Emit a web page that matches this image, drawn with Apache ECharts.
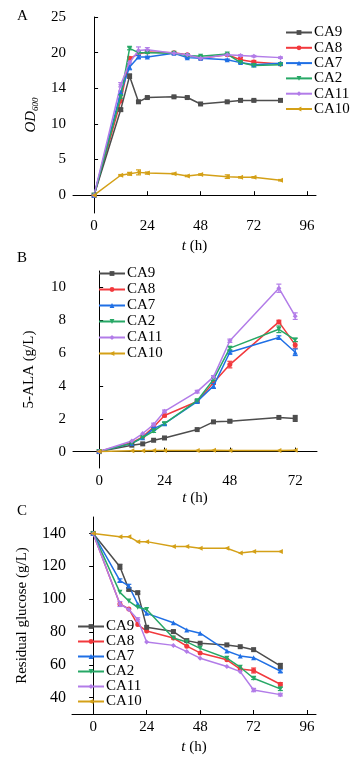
<!DOCTYPE html>
<html><head><meta charset="utf-8">
<script src="https://cdn.jsdelivr.net/npm/echarts@6/dist/echarts.min.js"></script>
<style>html,body{margin:0;padding:0;background:#fff}#c{width:356px;height:759px}</style>
</head><body><div id="c"></div>
<script>
const names = ['CA9','CA8','CA7','CA2','CA11','CA10'];
const colors = ['#4d4d4d','#f2393d','#1f6fe5','#27a866','#b27ce8','#d4a017'];
const symbols = ['rect','circle','triangle','path://M0,0 L10,0 L5,9 Z','diamond','path://M0,5 L9,0 L9,10 Z'];

// Panel A: OD600
const tA = [0,12,16,20,24,36,42,48,60,66,72,84];
const A_CA9  = [0,12.0,16.7,13.1,13.7,13.8,13.7,12.8,13.1,13.3,13.3,13.3];
const A_CA8  = [0,13.2,19.2,19.8,20.1,20.0,19.7,19.2,19.7,19.0,18.7,18.4];
const A_CA7  = [0,14.4,18.0,19.4,19.4,19.9,19.3,19.2,19.0,18.6,18.3,18.5];
const A_CA2  = [0,13.8,20.6,20.0,20.0,19.9,19.6,19.5,19.8,18.6,18.2,18.3];
const A_CA11 = [0,15.5,18.6,20.3,20.4,19.9,19.7,19.2,19.7,19.6,19.5,19.3];
const A_CA10 = [0,2.8,3.0,3.2,3.1,3.0,2.7,2.9,2.6,2.5,2.5,2.1];
// error (±) estimates
const A_CA9e  = [0,0.2,0.3,0.2,0.1,0.1,0.1,0.1,0.1,0.1,0.1,0.1];
const A_CA8e  = [0,0,0.2,0.2,0.2,0.1,0.1,0.1,0.1,0.3,0.2,0.2];
const A_CA7e  = [0,0.2,0.4,0.2,0.1,0.1,0.1,0.1,0.1,0.1,0.1,0.1];
const A_CA2e  = [0,0.2,0.2,0.1,0.1,0.1,0.1,0.1,0.1,0.1,0.2,0.1];
const A_CA11e = [0,0.3,0.2,0.5,0.3,0.1,0.1,0.1,0.1,0.1,0.1,0.1];
const A_CA10e = [0,0.1,0.2,0.35,0.15,0.1,0.1,0.1,0.25,0.1,0.1,0.1];
const A_yTicks = [0,5,10,15,20,25];
const A_yLabels = ['0','5','10','14','20','25'];
const A_xTicks = [0,24,48,72,96];

// Panel B: 5-ALA
const tB = [0,12,16,20,24,36,42,48,66,72];
const B_CA9  = [0,0.39,0.47,0.69,0.83,1.34,1.81,1.85,2.08,2.02];
const B_CA8  = [0,0.55,0.9,1.5,2.2,3.05,4.2,5.3,7.9,6.5];
const B_CA7  = [0,0.5,0.85,1.4,1.7,3.05,4.0,6.05,6.95,6.05];
const B_CA2  = [0,0.5,0.85,1.25,1.7,3.1,4.4,6.3,7.45,6.8];
const B_CA11 = [0,0.65,1.1,1.65,2.45,3.65,4.55,6.75,9.95,8.25];
const B_CA10 = [0,0.05,0.05,0.07,0.06,0.06,0.08,0.06,0.06,0.08];
const B_CA9e  = [0,0.03,0.03,0.04,0.04,0.05,0.05,0.08,0.05,0.18];
const B_CA8e  = [0,0.05,0.05,0.08,0.08,0.08,0.1,0.2,0.1,0.2];
const B_CA7e  = [0,0.05,0.05,0.08,0.08,0.08,0.15,0.1,0.1,0.2];
const B_CA2e  = [0,0.05,0.05,0.08,0.08,0.08,0.08,0.1,0.2,0.1];
const B_CA11e = [0,0.05,0.05,0.08,0.08,0.08,0.08,0.1,0.25,0.2];
const B_CA10e = [0,0,0,0,0,0,0,0,0,0];
const B_yTicks = [0,2,4,6,8,10];
const B_xTicks = [0,24,48,72];

// Panel C: Residual glucose
const tC = [0,12,16,20,24,36,42,48,60,66,72,84];
const C_CA9  = [140,119.7,105.9,103.9,82.8,80.2,74.7,73.1,72.1,71.0,69.2,59.3];
const C_CA8  = [140,97,94,84.5,80.5,76.3,71.3,67.2,63.0,57.4,56.5,48.1];
const C_CA7  = [140,111.3,108,97,91.3,85.6,81.2,79.2,68.4,65.4,64.3,56.2];
const C_CA2  = [140,104.1,98.8,95,93.7,76.3,73.9,70.0,64,58.5,51.8,45.3];
const C_CA11 = [140,97,93.7,87.6,73.8,71.8,68,64,58.9,55.8,44.6,41.8];
const C_CA10 = [140,138,138,135,135,132,132,131,131,128,129,129];
const C_CA9e  = [0,1.5,0.8,0.8,0.5,0.8,0.5,0.5,0.5,0.5,0.5,1.5];
const C_CA8e  = [0,0.5,0.5,0.5,0.5,0.5,0.5,0.5,0.5,0.5,1.5,1];
const C_CA7e  = [0,1,1,0.5,0.5,0.5,0.5,0.5,0.5,0.5,0.5,0.8];
const C_CA2e  = [0,0.5,0.5,0.5,0.5,0.5,0.5,0.5,0.5,0.5,0.8,1];
const C_CA11e = [0,1.5,0.5,1,0.5,0.5,0.5,0.5,0.5,0.5,1,0.8];
const C_CA10e = [0,0,0,0,0,0,0,0,0,0,0,0];
const C_yTicks = [40,60,80,100,120,140];
const C_xTicks = [0,24,48,72,96];

const FONT = 'Liberation Serif';
const dataA = [A_CA9,A_CA8,A_CA7,A_CA2,A_CA11,A_CA10];
const errA  = [A_CA9e,A_CA8e,A_CA7e,A_CA2e,A_CA11e,A_CA10e];
const dataB = [B_CA9,B_CA8,B_CA7,B_CA2,B_CA11,B_CA10];
const errB  = [B_CA9e,B_CA8e,B_CA7e,B_CA2e,B_CA11e,B_CA10e];
const dataC = [C_CA9,C_CA8,C_CA7,C_CA2,C_CA11,C_CA10];
const errC  = [C_CA9e,C_CA8e,C_CA7e,C_CA2e,C_CA11e,C_CA10e];

function errRender(color) {
  return function (params, api) {
    const x = api.value(0), lo = api.value(1), hi = api.value(2);
    const p1 = api.coord([x, hi]), p2 = api.coord([x, lo]);
    const w = 2.5;
    const st = { stroke: color, lineWidth: 1.2 };
    return { type: 'group', children: [
      { type: 'line', shape: { x1: p1[0], y1: p1[1], x2: p2[0], y2: p2[1] }, style: st },
      { type: 'line', shape: { x1: p1[0] - w, y1: p1[1], x2: p1[0] + w, y2: p1[1] }, style: st },
      { type: 'line', shape: { x1: p2[0] - w, y1: p2[1], x2: p2[0] + w, y2: p2[1] }, style: st }
    ] };
  };
}

function mkSeries(t, arrs, errs, idx) {
  const out = [];
  arrs.forEach((arr, i) => {
    out.push({
      type: 'custom', xAxisIndex: idx, yAxisIndex: idx,
      renderItem: errRender(colors[i]),
      encode: { x: 0, y: [1, 2] },
      data: t.map((x, k) => [x, arr[k] - errs[i][k], arr[k] + errs[i][k]]).filter(d => d[2] - d[1] > 0.12 * (idx === 2 ? 10 : 1)),
      z: 2, silent: true, animation: false
    });
    out.push({
      type: 'line', name: names[i], xAxisIndex: idx, yAxisIndex: idx,
      data: t.map((x, k) => [x, arr[k]]),
      symbol: symbols[i], symbolSize: 5, showSymbol: true,
      lineStyle: { color: colors[i], width: 1.5 },
      itemStyle: { color: colors[i] },
      z: i === 1 ? 1 : 2,
      animation: false
    });
  });
  return out;
}

const axisLine = { show: true, lineStyle: { color: '#000', width: 1 } };
function lab(size) { return { color: '#000', fontFamily: FONT, fontSize: size }; }

function xAx(idx, min, max, ticks, gap) {
  return {
    type: 'value', gridIndex: idx, min: min, max: max,
    name: '{i|t} (h)', nameLocation: 'middle', nameGap: gap,
    nameTextStyle: { color: '#000', fontFamily: FONT, fontSize: 15, rich: { i: { fontStyle: 'italic', fontFamily: FONT, fontSize: 15, color: '#000' } } },
    axisLine: axisLine, splitLine: { show: false },
    axisTick: { show: true, inside: true, length: 4, customValues: ticks, lineStyle: { color: '#000' } },
    axisLabel: Object.assign({ customValues: ticks, margin: 6 }, lab(15))
  };
}
function yAx(idx, min, max, ticks, name, gap, fmt, rich, inside, fs) {
  return {
    type: 'value', gridIndex: idx, min: min, max: max,
    name: name, nameLocation: 'middle', nameGap: gap, nameRotate: 90,
    nameTextStyle: { color: '#000', fontFamily: FONT, fontSize: 15, rich: rich || {} },
    axisLine: axisLine, splitLine: { show: false },
    axisTick: { show: true, inside: inside, length: 4, customValues: ticks, lineStyle: { color: '#000' } },
    axisLabel: Object.assign({ customValues: ticks, margin: inside ? 7 : 6, formatter: fmt }, lab(fs))
  };
}
function legend(left, top, gap) {
  return {
    data: names, orient: 'vertical', left: left, top: top, padding: 0,
    itemWidth: 26, itemHeight: 6, itemGap: gap,
    textStyle: { color: '#000', fontFamily: FONT, fontSize: 15, padding: [0,0,0,-3] },
    selectedMode: false
  };
}

const chart = echarts.init(document.getElementById('c'), null, { renderer: 'canvas' });
chart.setOption({
  backgroundColor: '#fff',
  animation: false,
  grid: [
    { left: 73, top: 17, width: 243, height: 196 },
    { left: 73, top: 271, width: 244, height: 197 },
    { left: 72, top: 517, width: 244, height: 197 }
  ],
  xAxis: [
    xAx(0, -9.5, 100, A_xTicks, 26),
    xAx(1, -9.6, 80, B_xTicks, 23),
    xAx(2, -9.5, 100, C_xTicks, 26)
  ],
  yAxis: [
    yAx(0, -2.5, 25, A_yTicks, '{i|OD}{s|600}', 33, function (v) { const k = A_yTicks.indexOf(v); return k >= 0 ? A_yLabels[k] : ''; },
      { i: { fontStyle: 'italic', fontFamily: FONT, fontSize: 15, color: '#000' }, s: { fontStyle: 'italic', fontFamily: FONT, fontSize: 9, color: '#000', verticalAlign: 'bottom', padding: [8,0,0,0] } }, true, 15),
    yAx(1, -1, 11, B_yTicks, '5-ALA (g/L)', 36, null, null, true, 15),
    yAx(2, 30, 150, C_yTicks, 'Residual glucose (g/L)', 42, null, null, false, 16)
  ],
  legend: [ legend(285, 25, 0.3), legend(98, 266, 1), legend(77, 619, 0) ],
  graphic: [
    { type: 'text', left: 17, top: 9, style: { text: 'A', font: '15px "Liberation Serif"', fill: '#000' } },
    { type: 'text', left: 17, top: 251, style: { text: 'B', font: '15px "Liberation Serif"', fill: '#000' } },
    { type: 'text', left: 17, top: 504, style: { text: 'C', font: '15px "Liberation Serif"', fill: '#000' } }
  ],
  series: [].concat(mkSeries(tA, dataA, errA, 0), mkSeries(tB, dataB, errB, 1), mkSeries(tC, dataC, errC, 2))
});
</script></body></html>
